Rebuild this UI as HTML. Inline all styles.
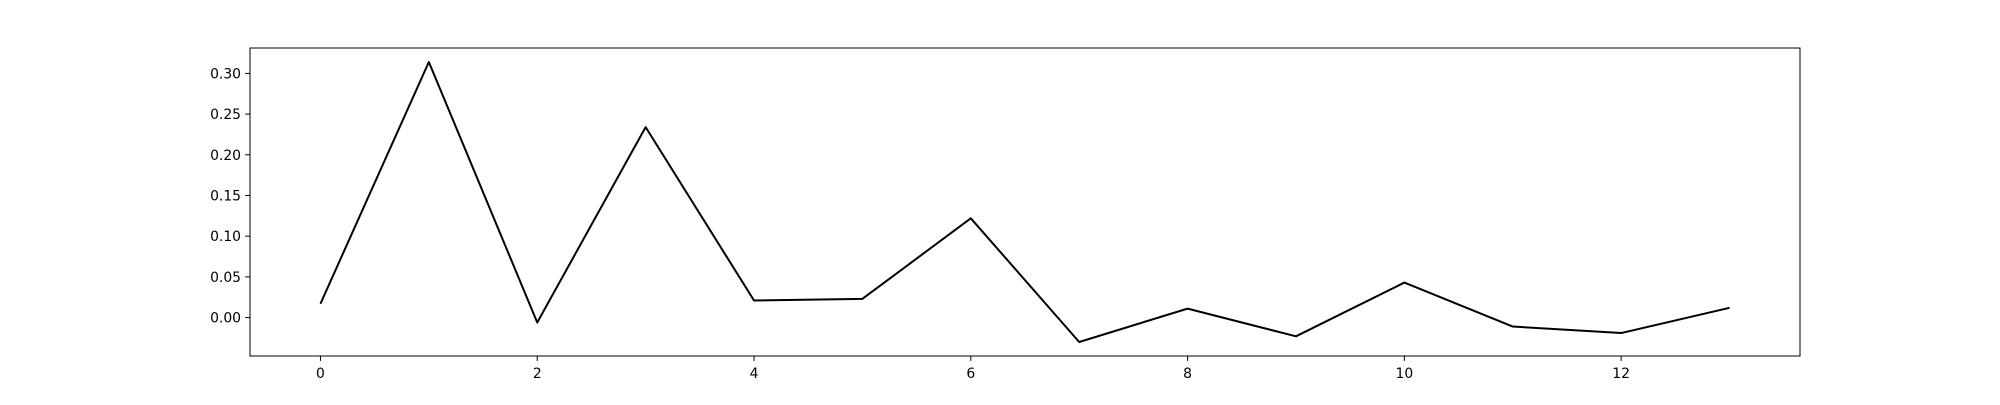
<!DOCTYPE html>
<html><head><meta charset="utf-8"><style>
html,body{margin:0;padding:0;background:#fff;}
svg text{font-family:"DejaVu Sans","Liberation Sans",sans-serif;font-size:13.9px;fill:#000;}
</style></head><body>
<svg id="chart" width="2000" height="400" xmlns="http://www.w3.org/2000/svg">
<rect x="0" y="0" width="2000" height="400" fill="#fff"/>
<g id="plot"></g>
</svg>
<script>
const xValues = [0,1,2,3,4,5,6,7,8,9,10,11,12,13];
const yValues = [0.017,0.314,-0.006,0.234,0.021,0.023,0.122,-0.030,0.011,-0.023,0.043,-0.011,-0.019,0.012];
const xTicks = [0,2,4,6,8,10,12];
const yTicks = [0.00,0.05,0.10,0.15,0.20,0.25,0.30];

const L=250,R=1800,T=48,B=356;
const xmin0=Math.min(...xValues),xmax0=Math.max(...xValues);
const ymin0=Math.min(...yValues),ymax0=Math.max(...yValues);
const xm=(xmax0-xmin0)*0.05, ym=(ymax0-ymin0)*0.05;
const xmin=xmin0-xm,xmax=xmax0+xm,ymin=ymin0-ym,ymax=ymax0+ym;
function sx(v){return L+(v-xmin)/(xmax-xmin)*(R-L);}
function sy(v){return B-(v-ymin)/(ymax-ymin)*(B-T);}
const NS="http://www.w3.org/2000/svg";
const g=document.getElementById('plot');
function mk(tag,attrs){const e=document.createElementNS(NS,tag);for(const k in attrs)e.setAttribute(k,attrs[k]);g.appendChild(e);return e;}

const pts=xValues.map((x,i)=>sx(x).toFixed(2)+','+sy(yValues[i]).toFixed(2)).join(' ');
const line=mk('polyline',{points:pts,fill:'none',stroke:'#000','stroke-width':2,'stroke-linejoin':'round'});



xTicks.forEach(t=>{
  const x=sx(t);
  const tk=mk('line',{x1:x,x2:x,y1:B,y2:B+4.9,stroke:'#000','stroke-width':1});
  
  
  const tx=mk('text',{x:x,y:B+22,'text-anchor':'middle'});
  tx.textContent=String(t);
  
  
});
yTicks.forEach(t=>{
  const y=sy(t);
  const tk=mk('line',{x1:L-4.9,x2:L,y1:y,y2:y,stroke:'#000','stroke-width':1});
  
  
  const tx=mk('text',{x:L-9,y:y+5,'text-anchor':'end'});
  tx.textContent=t.toFixed(2);
  
  
});
const frame=mk('rect',{x:L,y:T,width:R-L,height:B-T,fill:'none',stroke:'#000','stroke-width':1});


</script>
</body></html>
